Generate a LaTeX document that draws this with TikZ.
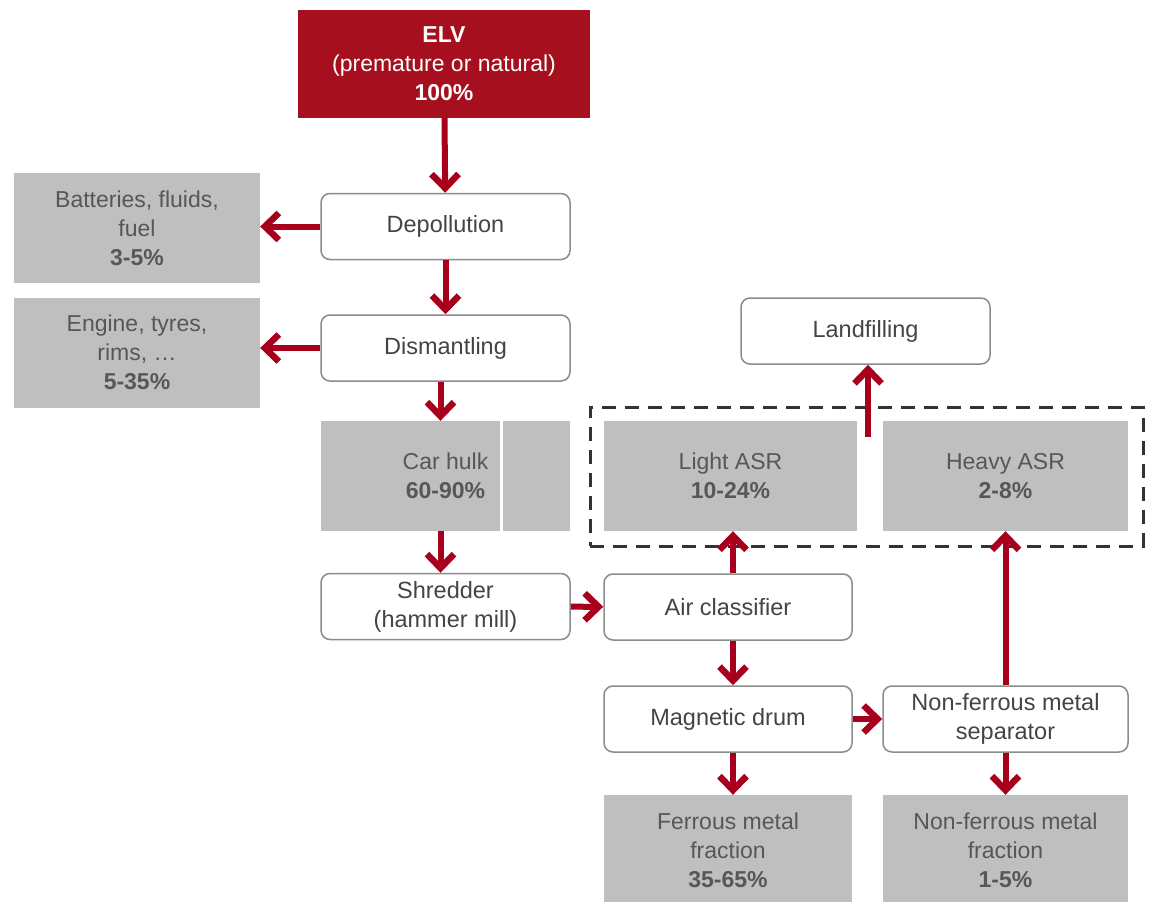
\documentclass[tikz,border=0pt]{standalone}
\usepackage{fontspec}
\setmainfont{Liberation Sans}
\usetikzlibrary{arrows.meta}

\definecolor{elvred}{HTML}{A50F1E}
\definecolor{flowred}{HTML}{A8001C}
\definecolor{fracgray}{HTML}{BFBFBF}
\definecolor{fractext}{HTML}{575757}
\definecolor{proctext}{HTML}{444444}

\begin{document}
\begin{tikzpicture}[x=1pt,y=-1pt,>={Straight Barb[length=14pt,width=27pt,line width=6.5pt]}]
        \tikzstyle{proc}=[draw=black!45,line width=1.5pt,rounded corners=9pt,fill=white,text=proctext,align=center,minimum width=249pt,minimum height=66pt,font=\fontsize{23.5}{29}\selectfont]
        \tikzstyle{frac}=[fill=fracgray,text=fractext,align=center,minimum height=110pt,font=\fontsize{23}{29}\selectfont]
        \tikzstyle{flow}=[->,draw=flowred,line width=6pt]

        \useasboundingbox (0,0) rectangle (1152,902);

        \node[fill=elvred,text=white,align=center,minimum width=292pt,minimum height=108pt,font=\fontsize{23}{29}\selectfont](elv) at (444,64){\textbf{ELV}\\(premature or natural)\\\textbf{100\%}};

        \node[proc](depol) at (445.5,226.5){Depollution};
        \node[frac,minimum width=246pt](batt) at (137,228){Batteries, fluids,\\fuel\\\textbf{3-5\%}};
        \node[proc](dism) at (445.5,348){Dismantling};
        \node[frac,minimum width=246pt](engine) at (137,352.5){Engine, tyres,\\rims, \dots\\\textbf{5-35\%}};
        \node[frac,minimum width=249pt](hulk) at (445.5,476){Car hulk\\\textbf{60-90\%}};
        \draw[white,line width=2.5pt] ([xshift=56pt]hulk.north) -- ([xshift=56pt]hulk.south);
        \node[proc](shred) at (445.5,606.5){Shredder\\(hammer mill)};

        \node[draw=black!80,line width=3pt,dash pattern=on 14pt off 9pt,minimum width=553pt,minimum height=139pt](asr) at (866.5,476.5){};
        \node[frac,minimum width=253pt](light) at (730.5,476){Light ASR\\\textbf{10-24\%}};
        \node[frac,minimum width=245pt](heavy) at (1005.5,476){Heavy ASR\\\textbf{2-8\%}};
        \node[proc](land) at (865.5,331){Landfilling};
        \coordinate(gap) at (868,437);

        \node[proc,minimum width=248pt](air) at (728,607){Air classifier};
        \node[proc,minimum width=248pt](magnet) at (728,719){Magnetic drum};
        \node[proc,minimum width=245pt](nfsep) at (1005.5,719){Non-ferrous metal\\separator};
        \node[frac,minimum width=248pt](ferrous) at (728,850){Ferrous metal\\fraction\\\textbf{35-65\%}};
        \node[frac,minimum width=245pt](nonferrous) at (1005.5,850){Non-ferrous metal\\fraction\\\textbf{1-5\%}};

        \draw[flow] (elv) -- (depol);
        \draw[flow] (depol) -- (dism);
        \draw[flow] (depol.west) -- (depol.west -| batt.east);
        \draw[flow] (dism.west) -- (dism.west -| engine.east);
        \draw[flow] ([xshift=-5pt]dism.south) -- ([xshift=-5pt]hulk.north);
        \draw[flow] ([xshift=-5pt]hulk.south) -- ([xshift=-5pt]shred.north);
        \draw[flow] (shred) -- (air);

        \draw[flow] ([xshift=5pt]air.north) -- ([xshift=5pt]air.north |- light.south);
        \draw[flow] ([xshift=5pt]air.south) -- ([xshift=5pt]magnet.north);
        \draw[flow] (magnet) -- (nfsep);
        \draw[flow] ([xshift=5pt]magnet.south) -- ([xshift=5pt]ferrous.north);
        \draw[flow] (nfsep) -- (heavy);
        \draw[flow] (nfsep) -- (nonferrous);
        \draw[flow] (gap) -- (gap |- land.south);

    \end{tikzpicture}
\end{document}
